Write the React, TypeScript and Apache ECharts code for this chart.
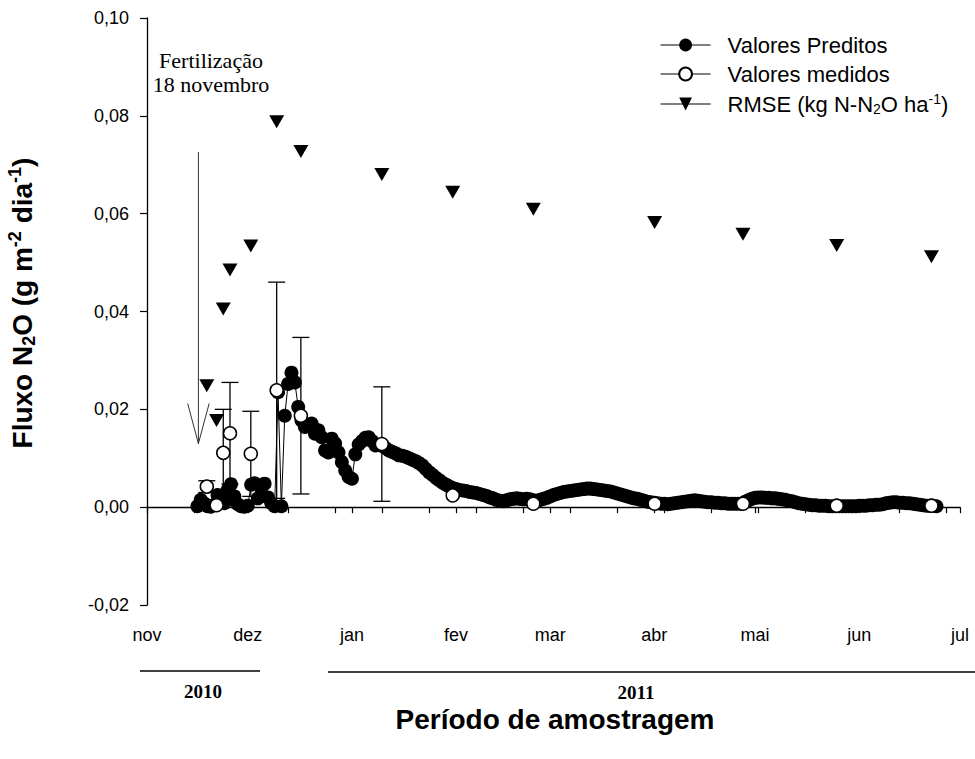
import React, { useEffect, useRef } from "react";
import * as echarts from "echarts";

// ---- axis definitions (days counted from 1 Nov 2010) ----
const monthTickDays = [0, 30, 61, 92, 120, 151, 181, 212, 242];
const monthLabels = ["nov", "dez", "jan", "fev", "mar", "abr", "mai", "jun", "jul"];
const minorTickDays = [14, 28, 42, 56, 70, 84, 98, 112, 126, 140, 154, 168, 182, 196, 210, 224, 238];

// ---- Valores Preditos (daily, starting at day 15) ----
const predStartDay = 15;
const predValues = [
  0.0002, 0.0015, 0.0008, 0.0002, 0.0001, 0.0005, 0.0025, 0.0015, 0.0008, 0.0035,
  0.0047, 0.0022, 0.0006, 0.0002, 0.0001, 0.0003, 0.0046, 0.0049, 0.0018, 0.0038,
  0.0048, 0.0020, 0.0008, 0.0002, 0.0235, 0.0002, 0.0187, 0.0252, 0.0275, 0.0255,
  0.0205, 0.0177, 0.0164, 0.0167, 0.0171, 0.0150, 0.0157, 0.0143, 0.0116, 0.0112,
  0.0140, 0.0130, 0.0112, 0.0092, 0.0075, 0.0062, 0.0058, 0.0108, 0.0128, 0.0135,
  0.0142, 0.0143, 0.0135, 0.0126, 0.0127, 0.0125, 0.0121, 0.0116, 0.0113, 0.0110,
  0.0106, 0.0105, 0.0103, 0.0100, 0.0097, 0.0094, 0.0090, 0.0085, 0.0078, 0.0071,
  0.0066, 0.0060, 0.0055, 0.0050, 0.0046, 0.0042, 0.0039, 0.0037, 0.0035, 0.0034,
  0.0033, 0.0031, 0.0030, 0.0029, 0.0027, 0.0025, 0.0023, 0.0020, 0.0018, 0.0015,
  0.0013, 0.0012, 0.0014, 0.0016, 0.0017, 0.0018, 0.0017, 0.0016, 0.0017, 0.0016,
  0.0014, 0.0013, 0.0015, 0.0017, 0.0019, 0.0022, 0.0025, 0.0027, 0.0029, 0.0031,
  0.0032, 0.0033, 0.0034, 0.0035, 0.0036, 0.0037, 0.0038, 0.0038, 0.0037, 0.0036,
  0.0035, 0.0034, 0.0033, 0.0032, 0.0030, 0.0028, 0.0026, 0.0024, 0.0022, 0.0020,
  0.0018, 0.0017, 0.0015, 0.0013, 0.0011, 0.0010, 0.0009, 0.0008, 0.0007, 0.0007,
  0.0006, 0.0007, 0.0008, 0.0009, 0.0010, 0.0011, 0.0012, 0.0013, 0.0014, 0.0013,
  0.0012, 0.0011, 0.0010, 0.0010, 0.0009, 0.0009, 0.0008, 0.0008, 0.0007, 0.0007,
  0.0007, 0.0007, 0.0007, 0.0011, 0.0014, 0.0017, 0.0019, 0.0020, 0.0020, 0.0019,
  0.0019, 0.0018, 0.0018, 0.0017, 0.0016, 0.0015, 0.0013, 0.0012, 0.0010, 0.0008,
  0.0007, 0.0006, 0.0005, 0.0004, 0.0004, 0.0003, 0.0003, 0.0003, 0.0002, 0.0002,
  0.0002, 0.0002, 0.0002, 0.0002, 0.0002, 0.0002, 0.0002, 0.0003, 0.0003, 0.0003,
  0.0004, 0.0004, 0.0005, 0.0005, 0.0006, 0.0008, 0.0009, 0.0010, 0.0010, 0.0009,
  0.0009, 0.0008, 0.0008, 0.0007, 0.0006, 0.0005, 0.0004, 0.0003, 0.0003, 0.0003,
  0.0002,
];

// ---- Valores medidos + desvio ----
const measDays = [17.8, 20.7, 22.7, 24.7, 30.9, 38.6, 45.8, 69.9, 91, 115, 151.1, 177.4, 205.3, 233.5];
const measValues = [0.0042, 0.0004, 0.0111, 0.0151, 0.0109, 0.0239, 0.0187, 0.0129, 0.0024, 0.0007, 0.0007, 0.0007, 0.0003, 0.0003];
const measSD = [0.0012, 0, 0.0089, 0.0104, 0.0087, 0.0221, 0.016, 0.0117, 0, 0, 0, 0, 0, 0];

// ---- RMSE ----
const rmseValues = [0.0248, 0.0177, 0.0405, 0.0485, 0.0534, 0.0788, 0.0727, 0.068, 0.0644, 0.0609, 0.0582, 0.0558, 0.0535, 0.0512];

// ---- fertilization arrow (annotation, data coords) ----
const arrowShaft = [[15.3, 0.0726], [15.3, 0.013]];
const arrowHead = [[12.1, 0.0212], [15.3, 0.013], [18.5, 0.0212]];

const SANS = "'Liberation Sans', Arial, sans-serif";
const SERIF = "'Liberation Serif', 'Times New Roman', serif";

export default function App() {
  const ref = useRef<HTMLDivElement>(null);

  useEffect(() => {
    if (!ref.current) return;
    const chart = echarts.init(ref.current, undefined, { renderer: "svg" });

    const predData = predValues.map((v, i) => [predStartDay + i, v]);
    const measData = measDays.map((d, i) => [d, measValues[i]]);
    const rmseData = measDays.map((d, i) => [d, rmseValues[i]]);
    const errData = measDays
      .map((d, i) => [d, measValues[i] - measSD[i], measValues[i] + measSD[i], measSD[i]])
      .filter((r) => r[3] > 0);

    const tickDays = [...monthTickDays, ...minorTickDays].sort((a, b) => a - b);

    const richSans = {
      t: { fontSize: 22, fontFamily: SANS, color: "#000", lineHeight: 24 },
      sub: { fontSize: 14, fontFamily: SANS, color: "#000", lineHeight: 14, verticalAlign: "bottom" },
      sup: { fontSize: 14, fontFamily: SANS, color: "#000", lineHeight: 14, verticalAlign: "top" },
    };

    const option: any = {
      animation: false,
      backgroundColor: "#fff",
      grid: { left: 147, right: 15, top: 18, bottom: 154, containLabel: false, outerBoundsMode: "none" },
      xAxis: {
        type: "value",
        min: 0,
        max: 242,
        axisLine: { show: true, lineStyle: { color: "#000", width: 1.3 } },
        axisTick: { show: true, customValues: tickDays, length: 6, lineStyle: { color: "#000", width: 1.2 } },
        axisLabel: {
          customValues: monthTickDays,
          formatter: (v: number) => monthLabels[monthTickDays.indexOf(v)] ?? "",
          fontSize: 18,
          fontFamily: SANS,
          color: "#000",
          margin: 21,
        },
        splitLine: { show: false },
      },
      yAxis: {
        type: "value",
        min: -0.02,
        max: 0.1,
        interval: 0.02,
        axisLine: { show: true, lineStyle: { color: "#000", width: 1.3 } },
        axisTick: { show: true, length: 7, lineStyle: { color: "#000", width: 1.2 } },
        axisLabel: {
          formatter: (v: number) => v.toFixed(2).replace(".", ","),
          fontSize: 18,
          fontFamily: SANS,
          color: "#000",
          margin: 18,
        },
        splitLine: { show: false },
      },
      legend: {
        orient: "vertical",
        left: 660,
        top: 34,
        padding: 0,
        itemWidth: 50,
        itemHeight: 16,
        itemGap: 7,
        selectedMode: false,
        data: ["Valores Preditos", "Valores medidos", "RMSE (kg N-N2O ha-1)"],
        formatter: (name: string) =>
          name.startsWith("RMSE")
            ? "{t|RMSE (kg N-N}{sub|2}{t|O ha}{sup|-1}{t|)}"
            : "{t|" + name + "}",
        textStyle: { padding: [0, 0, 0, 12], rich: richSans },
        lineStyle: { color: "#000", width: 1.2, opacity: 1 },
      },
      series: [
        {
          name: "arrowShaft",
          type: "line",
          data: arrowShaft,
          symbol: "none",
          silent: true,
          z: 2,
          lineStyle: { color: "#333", width: 1 },
        },
        {
          name: "arrowHead",
          type: "line",
          data: arrowHead,
          symbol: "none",
          silent: true,
          z: 2,
          lineStyle: { color: "#333", width: 1 },
        },
        {
          name: "Valores Preditos",
          type: "line",
          data: predData,
          symbol: "circle",
          symbolSize: 14,
          z: 3,
          itemStyle: { color: "#000" },
          lineStyle: { color: "#000", width: 1 },
        },
        {
          name: "errorbars",
          type: "custom",
          z: 4,
          silent: true,
          data: errData,
          encode: { x: 0, y: [1, 2] },
          renderItem: (params: any, api: any) => {
            const x = api.value(0);
            const lo = api.coord([x, api.value(1)]);
            const hi = api.coord([x, api.value(2)]);
            const hw = 8.5;
            const st = { stroke: "#000", lineWidth: 1.3 };
            return {
              type: "group",
              children: [
                { type: "line", shape: { x1: hi[0], y1: hi[1], x2: lo[0], y2: lo[1] }, style: st },
                { type: "line", shape: { x1: hi[0] - hw, y1: hi[1], x2: hi[0] + hw, y2: hi[1] }, style: st },
                { type: "line", shape: { x1: lo[0] - hw, y1: lo[1], x2: lo[0] + hw, y2: lo[1] }, style: st },
              ],
            };
          },
        },
        {
          name: "Valores medidos",
          type: "line",
          data: measData,
          symbol: "circle",
          symbolSize: 13,
          z: 5,
          itemStyle: { color: "#fff", borderColor: "#000", borderWidth: 1.5 },
          lineStyle: { width: 0, color: "#000" },
        },
        {
          name: "RMSE (kg N-N2O ha-1)",
          type: "line",
          data: rmseData,
          symbol: "path://M0,0L16,0L8,13Z",
          symbolSize: [15, 13],
          z: 6,
          itemStyle: { color: "#000" },
          lineStyle: { width: 0, color: "#000" },
        },
      ],
      graphic: [
        {
          type: "text",
          x: 22,
          y: 303,
          rotation: Math.PI / 2,
          style: {
            text: "{b|Fluxo N}{bs|2}{b|O (g m}{bp|-2}{b| dia}{bp|-1}{b|)}",
            align: "center",
            verticalAlign: "middle",
            rich: {
              b: { fontSize: 28, fontWeight: "bold", fontFamily: SANS, color: "#000", lineHeight: 32 },
              bs: { fontSize: 18, fontWeight: "bold", fontFamily: SANS, color: "#000", lineHeight: 18, verticalAlign: "bottom" },
              bp: { fontSize: 18, fontWeight: "bold", fontFamily: SANS, color: "#000", lineHeight: 18, verticalAlign: "top" },
            },
          },
        },
        {
          type: "text",
          x: 555,
          y: 719,
          style: {
            text: "Período de amostragem",
            align: "center",
            verticalAlign: "middle",
            fontSize: 28,
            fontWeight: "bold",
            fontFamily: SANS,
            fill: "#000",
          },
        },
        {
          type: "text",
          x: 211,
          y: 60,
          style: { text: "Fertilização", align: "center", verticalAlign: "middle", fontSize: 22, fontFamily: SERIF, fill: "#000" },
        },
        {
          type: "text",
          x: 211,
          y: 84,
          style: { text: "18 novembro", align: "center", verticalAlign: "middle", fontSize: 22, fontFamily: SERIF, fill: "#000" },
        },
        { type: "line", shape: { x1: 140, y1: 671, x2: 260, y2: 671 }, style: { stroke: "#000", lineWidth: 1.3 } },
        { type: "line", shape: { x1: 328, y1: 672, x2: 975, y2: 672 }, style: { stroke: "#000", lineWidth: 1.3 } },
        {
          type: "text",
          x: 203,
          y: 691,
          style: { text: "2010", align: "center", verticalAlign: "middle", fontSize: 19, fontWeight: "bold", fontFamily: SERIF, fill: "#000" },
        },
        {
          type: "text",
          x: 636,
          y: 692,
          style: { text: "2011", align: "center", verticalAlign: "middle", fontSize: 19, fontWeight: "bold", fontFamily: SERIF, fill: "#000" },
        },
      ],
    };

    chart.setOption(option);
    return () => chart.dispose();
  }, []);

  return (
    <div
      ref={ref}
      style={{ position: "fixed", left: 0, top: 0, width: 975, height: 759, background: "#fff" }}
    />
  );
}
